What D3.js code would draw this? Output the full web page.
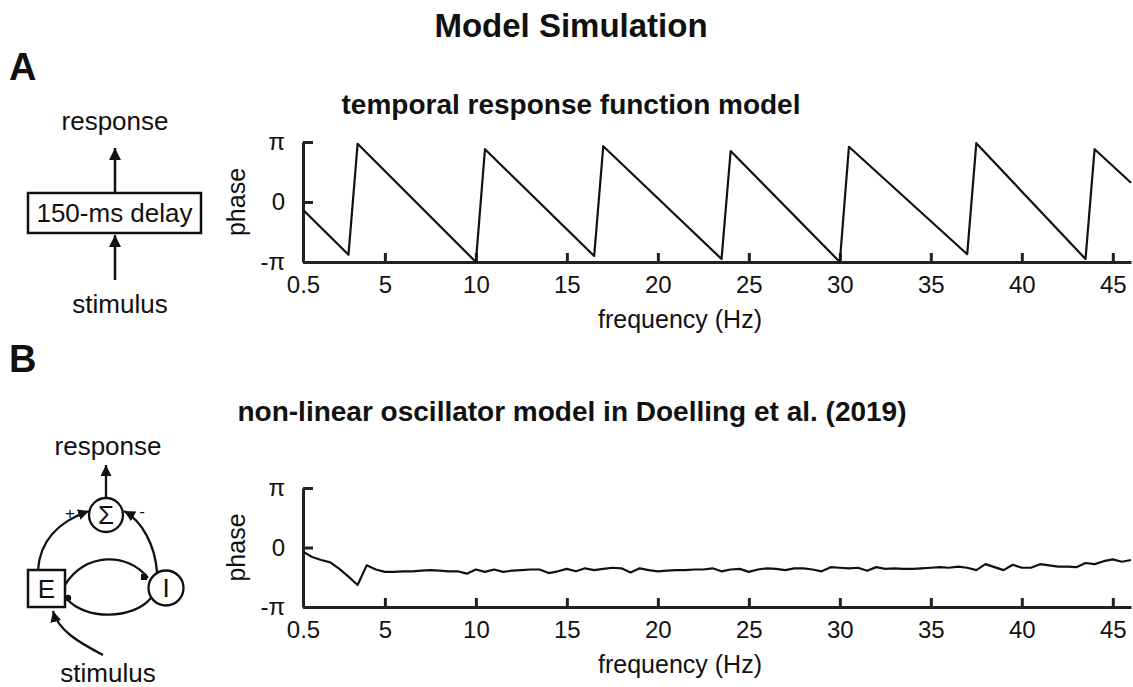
<!DOCTYPE html>
<html>
<head>
<meta charset="utf-8">
<script src="https://cdn.jsdelivr.net/npm/d3@7"></script>
<style>
  body{margin:0;background:#fff;}
  svg text{font-family:"Liberation Sans",Arial,sans-serif;fill:#111;}
</style>
</head>
<body>
<div id="chart"></div>
<script>
// panel A: vertices of the wrapped phase line (phase in units of pi)
var freqA  = [0.5, 3.0, 3.5, 10.0, 10.5, 16.5, 17.0, 23.5, 24.0, 30.0, 30.5, 37.0, 37.5, 43.5, 44.0, 46.0];
var phaseA = [-0.13, -0.88, 0.97, -1.0, 0.88, -0.9, 0.93, -0.95, 0.85, -1.0, 0.92, -0.87, 0.98, -0.95, 0.88, 0.32];

// panel B: phase (units of pi) at 0.5 Hz steps from 0.5 to 46 Hz
var freqB = [0.5,1,1.5,2,2.5,3,3.5,4,4.5,5,5.5,6,6.5,7,7.5,8,8.5,9,9.5,10,
  10.5,11,11.5,12,12.5,13,13.5,14,14.5,15,15.5,16,16.5,17,17.5,18,18.5,19,19.5,20,
  20.5,21,21.5,22,22.5,23,23.5,24,24.5,25,25.5,26,26.5,27,27.5,28,28.5,29,29.5,30,
  30.5,31,31.5,32,32.5,33,33.5,34,34.5,35,35.5,36,36.5,37,37.5,38,38.5,39,39.5,40,
  40.5,41,41.5,42,42.5,43,43.5,44,44.5,45,45.5,46];
var phaseB = [-0.07,-0.16,-0.21,-0.25,-0.36,-0.49,-0.63,-0.30,-0.37,-0.41,-0.41,-0.40,-0.40,-0.39,-0.38,-0.39,-0.40,-0.40,-0.44,-0.37,
  -0.41,-0.37,-0.41,-0.39,-0.38,-0.37,-0.37,-0.43,-0.40,-0.36,-0.40,-0.35,-0.38,-0.36,-0.34,-0.35,-0.42,-0.35,-0.38,-0.40,
  -0.39,-0.38,-0.38,-0.37,-0.37,-0.35,-0.40,-0.37,-0.36,-0.41,-0.37,-0.35,-0.36,-0.38,-0.35,-0.35,-0.37,-0.40,-0.33,-0.34,
  -0.35,-0.34,-0.39,-0.33,-0.36,-0.35,-0.36,-0.36,-0.35,-0.34,-0.33,-0.34,-0.32,-0.34,-0.38,-0.28,-0.33,-0.38,-0.29,-0.34,
  -0.34,-0.28,-0.30,-0.32,-0.32,-0.33,-0.26,-0.28,-0.23,-0.20,-0.24,-0.21];

var xTicks = [0.5, 5, 10, 15, 20, 25, 30, 35, 40, 45];
var yTicks = [-1, 0, 1];
var yTickLabels = ["-\u03c0", "0", "\u03c0"];

var W = 1133, H = 687;
var svg = d3.select("#chart").append("svg").attr("width", W).attr("height", H);

var defs = svg.append("defs");
defs.append("marker").attr("id","arrA").attr("markerUnits","userSpaceOnUse")
    .attr("viewBox","0 0 10 10").attr("refX",10).attr("refY",5)
    .attr("markerWidth",12).attr("markerHeight",12).attr("orient","auto")
  .append("path").attr("d","M0,0 L10,5 L0,10 z").attr("fill","#111");
defs.append("marker").attr("id","arrB").attr("markerUnits","userSpaceOnUse")
    .attr("viewBox","0 0 10 10").attr("refX",10).attr("refY",5)
    .attr("markerWidth",11).attr("markerHeight",11).attr("orient","auto")
  .append("path").attr("d","M0,0 L10,5 L0,10 z").attr("fill","#111");

// titles
svg.append("text").attr("x",571).attr("y",37).attr("text-anchor","middle")
   .style("font-size","33px").style("font-weight","bold").text("Model Simulation");
svg.append("text").attr("x",9).attr("y",80)
   .style("font-size","38px").style("font-weight","bold").text("A");
svg.append("text").attr("x",571).attr("y",114).attr("text-anchor","middle")
   .style("font-size","28px").style("font-weight","bold").text("temporal response function model");
svg.append("text").attr("x",9).attr("y",372)
   .style("font-size","38px").style("font-weight","bold").text("B");
svg.append("text").attr("x",572).attr("y",421).attr("text-anchor","middle")
   .style("font-size","28px").style("font-weight","bold").text("non-linear oscillator model in Doelling et al. (2019)");

function drawPlot(top, bottom, fr, ph){
  var x = d3.scaleLinear().domain([0.5, 46]).range([303, 1131]);
  var y = d3.scaleLinear().domain([-1, 1]).range([bottom, top]);

  var g = svg.append("g");
  var xa = g.append("g").attr("transform","translate(0," + bottom + ")")
    .call(d3.axisBottom(x).tickValues(xTicks).tickSizeInner(-9).tickSizeOuter(0)
      .tickPadding(14).tickFormat(function(d){ return d; }));
  var ya = g.append("g").attr("transform","translate(303,0)")
    .call(d3.axisLeft(y).tickValues(yTicks).tickSizeInner(-10).tickSizeOuter(0)
      .tickPadding(18).tickFormat(function(d,i){ return yTickLabels[i]; }));
  [xa, ya].forEach(function(a){
    a.select(".domain").attr("stroke","#222").attr("stroke-width",3);
    a.selectAll(".tick line").attr("stroke","#222").attr("stroke-width",3);
    a.selectAll(".tick text").style("font-size","24px").attr("fill","#111")
      .style("font-family","'Liberation Sans',Arial,sans-serif");
  });

  g.append("text").attr("x",680).attr("y",bottom + 66).attr("text-anchor","middle")
    .style("font-size","25px").text("frequency (Hz)");
  g.append("text").attr("transform","translate(245," + ((top + bottom)/2) + ") rotate(-90)")
    .attr("text-anchor","middle").style("font-size","25px").text("phase");

  var line = d3.line().x(function(d){ return x(d[0]); }).y(function(d){ return y(d[1]); });
  g.append("path").datum(d3.zip(fr, ph)).attr("d", line)
    .attr("fill","none").attr("stroke","#111").attr("stroke-width",2.2)
    .attr("stroke-linejoin","round");
}

drawPlot(142, 262, freqA, phaseA);
drawPlot(488, 607, freqB, phaseB);

// diagram A
var dA = svg.append("g");
dA.append("text").attr("x",115).attr("y",130).attr("text-anchor","middle").style("font-size","26px").text("response");
dA.append("line").attr("x1",115).attr("y1",193).attr("x2",115).attr("y2",148)
  .attr("stroke","#111").attr("stroke-width",2.5).attr("marker-end","url(#arrA)");
dA.append("rect").attr("x",28).attr("y",193).attr("width",173).attr("height",40)
  .attr("fill","#fff").attr("stroke","#111").attr("stroke-width",2.5);
dA.append("text").attr("x",114.5).attr("y",222).attr("text-anchor","middle").style("font-size","26px").text("150-ms delay");
dA.append("line").attr("x1",115).attr("y1",280).attr("x2",115).attr("y2",235)
  .attr("stroke","#111").attr("stroke-width",2.5).attr("marker-end","url(#arrA)");
dA.append("text").attr("x",120).attr("y",313).attr("text-anchor","middle").style("font-size","26px").text("stimulus");

// diagram B
var dB = svg.append("g");
function curve(d, mk){
  var p = dB.append("path").attr("d", d).attr("fill","none").attr("stroke","#111").attr("stroke-width",2.3);
  if(mk) p.attr("marker-end","url(#" + mk + ")");
  return p;
}
dB.append("text").attr("x",108).attr("y",455).attr("text-anchor","middle").style("font-size","26px").text("response");
curve("M106,498 L106,465", "arrB");
curve("M38,570 C40,540 60,521 89,511", "arrB");
curve("M157,572 C155,545 142,521 124,511", "arrB");
curve("M65,585 C85,552 128,552 148,578");
curve("M151,598 C133,620 85,620 67,599");
curve("M103,655 C78,642 58,630 53,611", "arrB");
dB.append("rect").attr("x",141).attr("y",574).attr("width",6).attr("height",6).attr("fill","#111");
dB.append("circle").attr("cx",68).attr("cy",598).attr("r",3.2).attr("fill","#111");
dB.append("circle").attr("cx",106).attr("cy",515).attr("r",17).attr("fill","#fff")
  .attr("stroke","#111").attr("stroke-width",2.3);
dB.append("text").attr("x",106).attr("y",524).attr("text-anchor","middle").style("font-size","26px").text("\u03a3");
dB.append("text").attr("x",70).attr("y",519).attr("text-anchor","middle").style("font-size","17px").text("+");
dB.append("text").attr("x",142).attr("y",517).attr("text-anchor","middle").style("font-size","17px").text("-");
dB.append("rect").attr("x",28).attr("y",570).attr("width",37).attr("height",37)
  .attr("fill","#fff").attr("stroke","#111").attr("stroke-width",2.5);
dB.append("text").attr("x",46.5).attr("y",598).attr("text-anchor","middle").style("font-size","26px").text("E");
dB.append("circle").attr("cx",166).attr("cy",588).attr("r",17.5).attr("fill","#fff")
  .attr("stroke","#111").attr("stroke-width",2.3);
dB.append("text").attr("x",166).attr("y",597).attr("text-anchor","middle").style("font-size","26px").text("I");
dB.append("text").attr("x",108).attr("y",682).attr("text-anchor","middle").style("font-size","26px").text("stimulus");
</script>
</body>
</html>
